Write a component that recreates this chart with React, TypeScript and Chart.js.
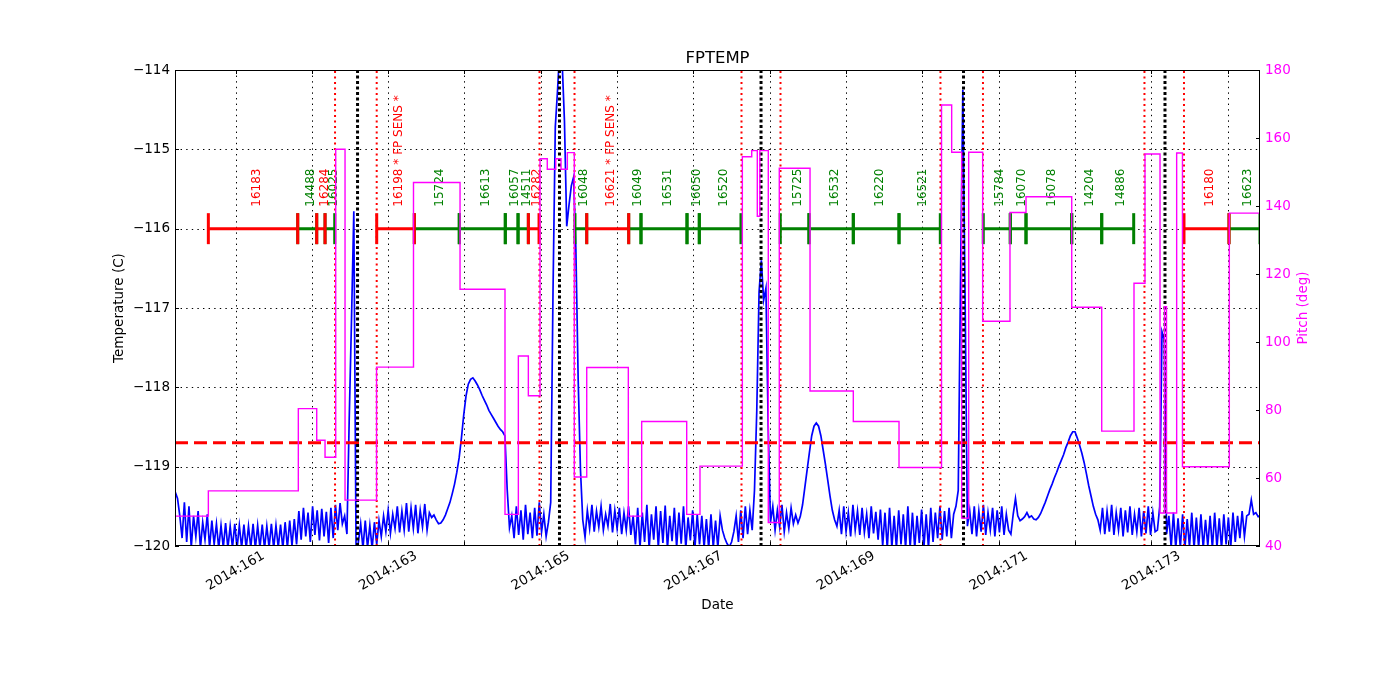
import React, { useEffect, useRef } from "react";
import { Chart, registerables } from "chart.js";

Chart.register(...registerables);

const FONT = '"DejaVu Sans", "Liberation Sans", sans-serif';

const chartTitle = "FPTEMP";
const xAxisTitle = "Date";
const yAxisTitle = "Temperature (C)";
const y2AxisTitle = "Pitch (deg)";

// x axis (day of year 2014)
const dayMin = 160.207;
const dayMax = 174.424;
const gridDays = [161, 162, 163, 164, 165, 166, 167, 168, 169, 170, 171, 172, 173, 174];
const labelDays = [161, 163, 165, 167, 169, 171, 173];
const labelTexts = ["2014:161", "2014:163", "2014:165", "2014:167", "2014:169", "2014:171", "2014:173"];

// left axis
const tempTicks = [-120, -119, -118, -117, -116, -115, -114];
const tempTickLabels = ["\u2212120", "\u2212119", "\u2212118", "\u2212117", "\u2212116", "\u2212115", "\u2212114"];
// right axis
const pitchTicks = [40, 60, 80, 100, 120, 140, 160, 180];
const pitchTickLabels = ["40", "60", "80", "100", "120", "140", "160", "180"];

// FPTEMP telemetry, regular cadence
const tempStartDay = 160.21;
const tempStepDay = 0.03;
const tempValues = [
  -119.32,-119.40,-119.62,-119.90,-119.45,-119.95,-119.50,-120.02,-119.62,-119.88,
  -119.56,-120.03,-119.70,-119.92,-119.60,-120.02,-119.68,-119.98,-119.72,-120.03,
  -119.74,-120.02,-119.71,-120.03,-119.75,-120.02,-119.72,-120.03,-119.74,-120.02,
  -119.73,-120.03,-119.75,-120.02,-119.72,-120.03,-119.74,-120.02,-119.73,-120.03,
  -119.75,-120.02,-119.72,-120.03,-119.74,-120.02,-119.73,-120.03,-119.70,-120.02,
  -119.68,-120.00,-119.66,-119.98,-119.56,-119.92,-119.52,-119.88,-119.58,-119.95,
  -119.50,-119.86,-119.55,-119.93,-119.53,-119.88,-119.57,-119.96,-119.52,-119.90,
  -119.48,-119.80,-119.46,-119.72,-119.62,-119.85,-118.39,-117.14,-115.78,-120.10,
  -119.95,-119.72,-120.03,-119.68,-120.02,-119.74,-120.03,-119.70,-119.98,-119.68,
  -119.88,-119.62,-119.82,-119.55,-119.84,-119.60,-119.78,-119.50,-119.83,-119.56,
  -119.80,-119.46,-119.82,-119.52,-119.78,-119.48,-119.84,-119.55,-119.76,-119.47,
  -119.80,-119.58,-119.64,-119.61,-119.67,-119.72,-119.71,-119.67,-119.61,-119.53,
  -119.45,-119.34,-119.22,-119.07,-118.89,-118.64,-118.35,-118.11,-117.96,-117.90,
  -117.88,-117.92,-117.97,-118.03,-118.10,-118.16,-118.22,-118.29,-118.34,-118.39,
  -118.44,-118.49,-118.53,-118.56,-118.61,-119.29,-119.77,-119.62,-119.90,-119.50,
  -119.86,-119.55,-119.92,-119.48,-119.85,-119.58,-119.90,-119.52,-119.87,-119.45,
  -119.82,-119.60,-119.88,-119.70,-119.45,-116.81,-114.72,-114.25,-113.70,-113.90,
  -114.64,-115.97,-115.70,-115.46,-115.35,-116.27,-117.91,-119.04,-119.67,-119.89,
  -119.55,-119.78,-119.48,-119.82,-119.56,-119.76,-119.50,-119.80,-119.60,-119.75,
  -119.47,-119.83,-119.55,-119.78,-119.52,-119.85,-119.58,-119.80,-119.50,-119.86,
  -119.62,-119.98,-119.52,-120.02,-119.58,-119.95,-119.48,-120.03,-119.60,-119.92,
  -119.50,-120.02,-119.56,-119.96,-119.49,-120.03,-119.62,-119.94,-119.52,-120.02,
  -119.58,-119.97,-119.50,-120.03,-119.64,-119.93,-119.55,-120.02,-119.60,-119.98,
  -119.62,-120.02,-119.66,-120.03,-119.60,-120.02,-119.68,-120.02,-119.62,-119.80,
  -119.90,-119.97,-120.01,-119.95,-119.82,-119.62,-119.95,-119.55,-119.90,-119.50,
  -119.85,-119.55,-119.80,-119.30,-118.30,-116.80,-116.40,-116.90,-116.75,-118.50,
  -119.70,-119.50,-119.80,-119.55,-119.76,-119.48,-119.82,-119.58,-119.78,-119.52,
  -119.72,-119.61,-119.71,-119.63,-119.48,-119.26,-119.04,-118.82,-118.61,-118.49,
  -118.45,-118.49,-118.61,-118.79,-118.97,-119.17,-119.37,-119.55,-119.67,-119.75,
  -119.55,-119.85,-119.50,-119.82,-119.58,-119.88,-119.48,-119.80,-119.56,-119.86,
  -119.52,-119.83,-119.60,-119.90,-119.50,-119.84,-119.57,-119.92,-119.54,-120.00,
  -119.58,-120.03,-119.52,-120.02,-119.62,-120.03,-119.55,-119.98,-119.60,-120.03,
  -119.50,-120.02,-119.58,-120.03,-119.62,-119.96,-119.54,-120.02,-119.60,-120.03,
  -119.52,-119.95,-119.58,-119.90,-119.50,-119.92,-119.56,-119.88,-119.52,-119.90,
  -119.60,-119.50,-119.30,-116.63,-114.25,-116.90,-119.75,-119.55,-119.85,-119.50,
  -119.88,-119.56,-119.82,-119.48,-119.86,-119.58,-119.80,-119.52,-119.88,-119.55,
  -119.83,-119.50,-119.86,-119.60,-119.80,-119.85,-119.60,-119.40,-119.62,-119.68,
  -119.66,-119.63,-119.58,-119.64,-119.62,-119.66,-119.67,-119.64,-119.59,-119.52,
  -119.45,-119.37,-119.29,-119.22,-119.14,-119.07,-118.99,-118.92,-118.85,-118.76,
  -118.69,-118.61,-118.56,-118.56,-118.64,-118.73,-118.83,-118.95,-119.09,-119.24,
  -119.37,-119.50,-119.60,-119.67,-119.80,-119.52,-119.85,-119.56,-119.82,-119.48,
  -119.86,-119.58,-119.80,-119.52,-119.88,-119.55,-119.83,-119.50,-119.86,-119.60,
  -119.82,-119.52,-119.88,-119.56,-119.84,-119.50,-119.86,-119.58,-119.82,-119.80,
  -119.50,-117.30,-117.40,-119.85,-119.62,-120.02,-119.58,-120.03,-119.65,-120.02,
  -119.60,-120.03,-119.66,-120.01,-119.58,-120.03,-119.64,-120.02,-119.60,-120.03,
  -119.67,-120.00,-119.62,-120.03,-119.58,-120.02,-119.65,-120.03,-119.60,-119.98,
  -119.64,-120.02,-119.58,-119.95,-119.62,-119.90,-119.56,-119.88,-119.62,-119.60,
  -119.42,-119.60,-119.58,-119.63,-119.62,
];

// Pitch: change times and new values (step series)
const pitchDays = [
  160.207, 160.644, 161.823, 162.064, 162.173, 162.313, 162.435, 162.848, 163.332, 163.942,
  164.531, 164.706, 164.837, 164.990, 165.085, 165.196, 165.265, 165.348, 165.439, 165.602,
  166.147, 166.322, 166.912, 167.086, 167.641, 167.764, 167.837, 167.870, 167.981, 168.125,
  168.528, 169.095, 169.694, 170.251, 170.384, 170.515, 170.607, 170.790, 171.148, 171.358,
  171.957, 172.350, 172.773, 172.917, 173.114, 173.173, 173.199, 173.332, 173.408, 174.022,
  174.424,
];
const pitchValues = [
  48.8, 56.2, 80.4, 71.1, 66.1, 156.7, 53.5, 92.6, 146.9, 115.5,
  49.3, 95.9, 84.2, 153.9, 150.8, 153.9, 150.8, 155.7, 60.3, 92.5,
  48.8, 76.6, 49.3, 63.5, 154.5, 156.3, 137.0, 156.3, 46.9, 151.1,
  85.6, 76.6, 63.1, 169.7, 155.8, 48.2, 155.8, 106.1, 138.1, 142.7,
  110.2, 73.8, 117.3, 155.3, 49.7, 110.4, 49.7, 155.6, 63.3, 137.9,
  137.9,
];

const limitTemp = -118.7;
const obsLevel = -116;
const redEventDays = [162.304, 162.850, 164.983, 165.442, 167.630, 168.141, 170.237, 170.794, 172.910, 173.428];
const blackEventDays = [162.599, 165.245, 167.886, 170.539, 173.179];

const obsIds = [
  "16183", "14488", "16284", "16025", "16198 * FP SENS *", "15724", "16613", "16057", "14511", "16282",
  "16048", "16621 * FP SENS *", "16049", "16531", "16050", "16520", "15725", "16532", "16220", "16521",
  "15784", "16070", "16078", "14204", "14886", "16180", "16623",
];
const obsStart = [
  160.644, 161.815, 162.064, 162.173, 162.850, 163.343, 163.932, 164.535, 164.702, 164.837,
  165.448, 165.602, 166.152, 166.313, 166.916, 167.077, 168.138, 168.514, 169.095, 169.694,
  170.798, 171.152, 171.358, 171.957, 172.350, 173.428, 174.018,
];
const obsEnd = [
  161.815, 162.064, 162.173, 162.300, 163.343, 163.932, 164.535, 164.702, 164.837, 164.977,
  165.602, 166.152, 166.313, 166.916, 167.077, 167.623, 168.514, 169.095, 169.694, 170.235,
  171.152, 171.358, 171.957, 172.350, 172.769, 174.018, 174.424,
];
const obsIsRed = [
  true, false, true, false, true, false, false, false, false, true,
  false, true, false, false, false, false, false, false, false, false,
  false, false, false, false, false, true, false,
];

const RED = "#ff0000";
const GREEN = "#008000";
const BLUE = "#0000ff";
const MAGENTA = "#ff00ff";

function verticalLines(days: number[]) {
  const out: any[] = [];
  days.forEach((d) => {
    out.push({ x: d, y: -120 }, { x: d, y: -114 }, { x: d, y: null });
  });
  return out;
}

function obsSegments(red: boolean) {
  const out: any[] = [];
  obsIds.forEach((_, i) => {
    if (obsIsRed[i] !== red) return;
    out.push({ x: obsStart[i], y: obsLevel }, { x: obsEnd[i], y: obsLevel }, { x: obsEnd[i], y: null });
  });
  return out;
}

function obsTicks(red: boolean) {
  const out: any[] = [];
  obsIds.forEach((_, i) => {
    if (obsIsRed[i] !== red) return;
    out.push({ x: obsStart[i], y: obsLevel }, { x: obsEnd[i], y: obsLevel });
  });
  return out;
}

const decorPlugin = {
  id: "decor",
  beforeDatasetsDraw(chart: any) {
    const { ctx, chartArea: a, scales } = chart;
    const xs = scales.x;
    const ys = scales.y;
    ctx.save();
    ctx.strokeStyle = "#000";
    ctx.lineWidth = 1;
    ctx.setLineDash([1.4, 4.2]);
    ctx.beginPath();
    gridDays.forEach((d) => {
      const px = Math.round(xs.getPixelForValue(d)) + 0.5;
      ctx.moveTo(px, a.top);
      ctx.lineTo(px, a.bottom);
    });
    tempTicks.forEach((t) => {
      if (t === -120 || t === -114) return;
      const py = Math.round(ys.getPixelForValue(t)) + 0.5;
      ctx.moveTo(a.left, py);
      ctx.lineTo(a.right, py);
    });
    ctx.stroke();
    ctx.restore();

    // observation labels
    ctx.save();
    ctx.font = `12px ${FONT}`;
    ctx.textAlign = "left";
    ctx.textBaseline = "middle";
    const baseY = ys.getPixelForValue(obsLevel) - 22;
    obsIds.forEach((id, i) => {
      const px = xs.getPixelForValue((obsStart[i] + obsEnd[i]) / 2) + 3.5;
      ctx.save();
      ctx.translate(px, baseY);
      ctx.rotate(-Math.PI / 2);
      ctx.fillStyle = obsIsRed[i] ? RED : GREEN;
      ctx.fillText(id, 0, 0);
      ctx.restore();
    });
    ctx.restore();
  },
  afterDatasetsDraw(chart: any) {
    const { ctx, chartArea: a, scales } = chart;
    const xs = scales.x;
    const ys = scales.y;
    const ys2 = scales.y1;
    ctx.save();
    ctx.setLineDash([]);
    ctx.strokeStyle = "#000";
    ctx.lineWidth = 1;
    ctx.strokeRect(a.left + 0.5, a.top + 0.5, a.right - a.left - 1, a.bottom - a.top - 1);

    // tick marks (inward)
    ctx.beginPath();
    tempTicks.forEach((t) => {
      const py = Math.round(ys.getPixelForValue(t)) + 0.5;
      ctx.moveTo(a.left, py);
      ctx.lineTo(a.left + 4, py);
    });
    pitchTicks.forEach((p) => {
      const py = Math.round(ys2.getPixelForValue(p)) + 0.5;
      ctx.moveTo(a.right, py);
      ctx.lineTo(a.right - 4, py);
    });
    gridDays.forEach((d) => {
      const px = Math.round(xs.getPixelForValue(d)) + 0.5;
      ctx.moveTo(px, a.bottom);
      ctx.lineTo(px, a.bottom - 4);
      ctx.moveTo(px, a.top);
      ctx.lineTo(px, a.top + 4);
    });
    ctx.stroke();

    // tick labels
    ctx.font = `13.5px ${FONT}`;
    ctx.fillStyle = "#000";
    ctx.textAlign = "right";
    ctx.textBaseline = "middle";
    tempTicks.forEach((t, i) => {
      ctx.fillText(tempTickLabels[i], a.left - 5, ys.getPixelForValue(t));
    });
    ctx.fillStyle = MAGENTA;
    ctx.textAlign = "left";
    pitchTicks.forEach((p, i) => {
      ctx.fillText(pitchTickLabels[i], a.right + 5, ys2.getPixelForValue(p));
    });
    ctx.fillStyle = "#000";
    labelDays.forEach((d, i) => {
      const px = xs.getPixelForValue(d);
      ctx.save();
      ctx.translate(px, a.bottom + 25);
      ctx.rotate(-Math.PI / 6);
      ctx.textAlign = "center";
      ctx.textBaseline = "middle";
      ctx.fillText(labelTexts[i], 0, 0);
      ctx.restore();
    });

    // titles
    const cx = (a.left + a.right) / 2;
    const cy = (a.top + a.bottom) / 2;
    ctx.textAlign = "center";
    ctx.textBaseline = "middle";
    ctx.font = `13.5px ${FONT}`;
    ctx.fillText(xAxisTitle, cx, a.bottom + 59);
    ctx.save();
    ctx.translate(a.left - 56, cy);
    ctx.rotate(-Math.PI / 2);
    ctx.fillText(yAxisTitle, 0, 0);
    ctx.restore();
    ctx.save();
    ctx.translate(a.right + 43, cy);
    ctx.rotate(-Math.PI / 2);
    ctx.fillStyle = MAGENTA;
    ctx.fillText(y2AxisTitle, 0, 0);
    ctx.restore();
    ctx.font = `16.5px ${FONT}`;
    ctx.fillText(chartTitle, cx, a.top - 11);
    ctx.restore();
  },
};

export default function App() {
  const canvasRef = useRef<HTMLCanvasElement | null>(null);

  useEffect(() => {
    document.body.style.margin = "0";
    const canvas = canvasRef.current;
    if (!canvas) return;

    const tempData = tempValues.map((v, i) => ({ x: tempStartDay + i * tempStepDay, y: v }));
    const pitchData = pitchDays.map((d, i) => ({ x: d, y: pitchValues[i] }));

    const common = { pointRadius: 0, tension: 0, spanGaps: false, xAxisID: "x" };

    const chart = new Chart(canvas, {
      type: "line",
      data: {
        datasets: [
          {
            ...common,
            label: "FPTEMP",
            data: tempData,
            yAxisID: "y",
            borderColor: BLUE,
            borderWidth: 1.7,
            order: 9,
          },
          {
            ...common,
            label: "limit",
            data: [
              { x: dayMin, y: limitTemp },
              { x: dayMax, y: limitTemp },
            ],
            yAxisID: "y",
            borderColor: RED,
            borderWidth: 3,
            borderDash: [13, 6],
            order: 8,
          },
          {
            ...common,
            label: "radzone",
            data: verticalLines(redEventDays),
            yAxisID: "y",
            borderColor: RED,
            borderWidth: 2,
            borderDash: [2, 3.5],
            order: 7,
          },
          {
            ...common,
            label: "perigee",
            data: verticalLines(blackEventDays),
            yAxisID: "y",
            borderColor: "#000",
            borderWidth: 3,
            borderDash: [3, 2.5],
            order: 6,
          },
          {
            ...common,
            label: "obs green",
            data: obsSegments(false),
            yAxisID: "y",
            borderColor: GREEN,
            borderWidth: 3,
            order: 5,
          },
          {
            ...common,
            label: "obs red",
            data: obsSegments(true),
            yAxisID: "y",
            borderColor: RED,
            borderWidth: 3,
            order: 4,
          },
          {
            label: "ticks green",
            data: obsTicks(false),
            xAxisID: "x",
            yAxisID: "y",
            showLine: false,
            pointStyle: "line",
            pointRotation: 90,
            pointRadius: 15.5,
            pointBorderWidth: 3,
            pointBorderColor: GREEN,
            pointBackgroundColor: GREEN,
            order: 3,
          },
          {
            label: "ticks red",
            data: obsTicks(true),
            xAxisID: "x",
            yAxisID: "y",
            showLine: false,
            pointStyle: "line",
            pointRotation: 90,
            pointRadius: 15.5,
            pointBorderWidth: 3,
            pointBorderColor: RED,
            pointBackgroundColor: RED,
            order: 2,
          },
          {
            ...common,
            label: "Pitch",
            data: pitchData,
            yAxisID: "y1",
            borderColor: MAGENTA,
            borderWidth: 1.4,
            stepped: true,
            order: 1,
          },
        ] as any,
      },
      options: {
        responsive: false,
        animation: false,
        devicePixelRatio: 1,
        layout: { padding: { left: 175, right: 140, top: 70, bottom: 154 } },
        scales: {
          x: { type: "linear", min: dayMin, max: dayMax, display: false },
          y: { type: "linear", min: -120, max: -114, display: false },
          y1: { type: "linear", min: 40, max: 180, display: false },
        },
        plugins: {
          legend: { display: false },
          tooltip: { enabled: false },
          title: { display: false },
        },
        events: [],
      } as any,
      plugins: [decorPlugin],
    });

    return () => {
      chart.destroy();
    };
  }, []);

  return (
    <div style={{ width: 1400, height: 700, overflow: "hidden", background: "#fff" }}>
      <canvas ref={canvasRef} width={1400} height={700} style={{ display: "block" }} />
    </div>
  );
}
